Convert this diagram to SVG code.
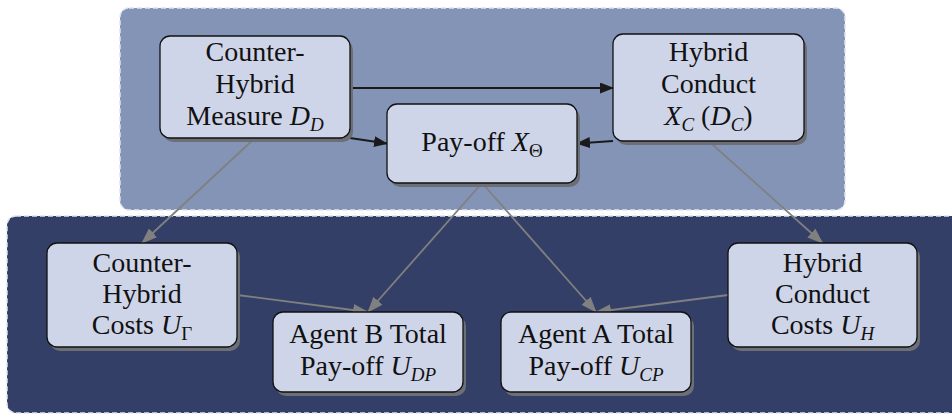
<svg xmlns="http://www.w3.org/2000/svg" width="952" height="415" viewBox="0 0 952 415">
<defs>
  <marker id="ahB" markerUnits="userSpaceOnUse" markerWidth="14" markerHeight="11" refX="13" refY="5.5" orient="auto">
    <path d="M0,0 L14,5.5 L0,11 z" fill="#1a1a1a"/>
  </marker>
  <marker id="ahG" markerUnits="userSpaceOnUse" markerWidth="16" markerHeight="12" refX="15" refY="6" orient="auto">
    <path d="M0,0 L16,6 L0,12 z" fill="#808080"/>
  </marker>
</defs>
<style>
  .panel { stroke: #dfe4f0; stroke-width: 1.5; stroke-dasharray: 5 3; }
  .shadow { fill: #6d6f77; }
  .box { fill: #cfd5e8; stroke: #111; stroke-width: 1.3; }
  text { font-family: 'Liberation Serif', 'Times New Roman', serif; font-size: 28px; fill: #111; text-anchor: middle; }
  .it { font-style: italic; }
  .sub { font-size: 19px; }
  .dark { stroke: #1a1a1a; stroke-width: 2; fill: none; marker-end: url(#ahB); }
  .gray { stroke: #808080; stroke-width: 1.8; fill: none; marker-end: url(#ahG); }
</style>
<rect width="952" height="415" fill="#ffffff"/>
<g id="panels">
  <rect class="panel" x="120" y="8" width="725" height="202" rx="9" fill="#8494b7"/>
  <rect class="panel" x="7" y="216" width="965" height="197" rx="9" fill="#333f67"/>
</g>
<g id="connectors">
  <line class="dark" x1="350" y1="88" x2="613" y2="88"/>
  <line class="dark" x1="350" y1="138" x2="387" y2="143.5"/>
  <line class="dark" x1="613" y1="141" x2="577" y2="143.5"/>
  <line class="gray" x1="255" y1="138" x2="142" y2="243"/>
  <line class="gray" x1="482" y1="183" x2="368" y2="312"/>
  <line class="gray" x1="482" y1="183" x2="596" y2="312"/>
  <line class="gray" x1="708.5" y1="141" x2="822.5" y2="243"/>
  <line class="gray" x1="237" y1="295" x2="368" y2="312"/>
  <line class="gray" x1="728" y1="295" x2="596" y2="312"/>
</g>
<g id="node-counter-hybrid-measure">
  <rect class="shadow" x="163" y="40" width="190" height="102" rx="10"/>
  <rect class="box" x="160" y="36" width="190" height="102" rx="10"/>
  <text x="255" y="61">Counter-</text>
  <text x="255" y="93">Hybrid</text>
  <text x="255" y="125">Measure <tspan class="it">D</tspan><tspan class="it sub" dy="6">D</tspan></text>
</g>
<g id="node-hybrid-conduct">
  <rect class="shadow" x="616" y="38" width="191" height="107" rx="10"/>
  <rect class="box" x="613" y="34" width="191" height="107" rx="10"/>
  <text x="708.5" y="61">Hybrid</text>
  <text x="708.5" y="93">Conduct</text>
  <text x="708.5" y="125"><tspan class="it">X</tspan><tspan class="it sub" dy="6">C</tspan><tspan dy="-6"> (</tspan><tspan class="it">D</tspan><tspan class="it sub" dy="6">C</tspan><tspan dy="-6">)</tspan></text>
</g>
<g id="node-payoff">
  <rect class="shadow" x="390" y="108" width="190" height="79" rx="10"/>
  <rect class="box" x="387" y="104" width="190" height="79" rx="10"/>
  <text x="482" y="151">Pay-off <tspan class="it">X</tspan><tspan class="sub" dy="6">Θ</tspan></text>
</g>
<g id="node-counter-hybrid-costs">
  <rect class="shadow" x="50" y="247" width="190" height="104" rx="10"/>
  <rect class="box" x="47" y="243" width="190" height="104" rx="10"/>
  <text x="142" y="272">Counter-</text>
  <text x="142" y="303">Hybrid</text>
  <text x="142" y="334">Costs <tspan class="it">U</tspan><tspan class="sub" dy="6">Γ</tspan></text>
</g>
<g id="node-agent-b">
  <rect class="shadow" x="276" y="316" width="190" height="80" rx="10"/>
  <rect class="box" x="273" y="312" width="190" height="80" rx="10"/>
  <text x="368" y="343">Agent B Total</text>
  <text x="368" y="375">Pay-off <tspan class="it">U</tspan><tspan class="it sub" dy="6">DP</tspan></text>
</g>
<g id="node-agent-a">
  <rect class="shadow" x="504" y="316" width="190" height="80" rx="10"/>
  <rect class="box" x="501" y="312" width="190" height="80" rx="10"/>
  <text x="596" y="343">Agent A Total</text>
  <text x="596" y="375">Pay-off <tspan class="it">U</tspan><tspan class="it sub" dy="6">CP</tspan></text>
</g>
<g id="node-hybrid-conduct-costs">
  <rect class="shadow" x="731" y="247" width="189" height="104" rx="10"/>
  <rect class="box" x="728" y="243" width="189" height="104" rx="10"/>
  <text x="822.5" y="272">Hybrid</text>
  <text x="822.5" y="303">Conduct</text>
  <text x="822.5" y="334">Costs <tspan class="it">U</tspan><tspan class="it sub" dy="6">H</tspan></text>
</g>
</svg>
